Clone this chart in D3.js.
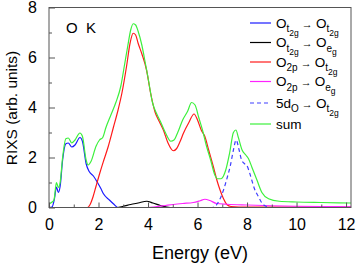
<!DOCTYPE html>
<html>
<head>
<meta charset="utf-8">
<script src="https://cdn.jsdelivr.net/npm/d3@7"></script>
<style>
  body { margin: 0; background: #fff; }
  svg { font-family: "Liberation Sans", Arial, sans-serif; }
</style>
</head>
<body>
<div class="chart"></div>
<script>
// energy (eV) / intensity pairs
const sumE = [0,0.1,0.2,0.3,0.38,0.45,0.55,0.68,0.78,0.92,1.05,1.25,1.35,1.5,1.58,1.7,1.9,2.04,2.17,2.3,2.5,2.7,2.9,3.05,3.18,3.3,3.4,3.5,3.6,3.75,3.84,4.0,4.18,4.35,4.52,4.7,4.92,5.05,5.2,5.4,5.6,5.76,5.9,6.05,6.2,6.35,6.53,6.7,6.8,6.95,7.14,7.3,7.45,7.55,7.65,7.8,7.95,8.06,8.2,8.4,8.6,8.87,9.3,10,11,12.2];
const sumI = [0.15,0.2,0.3,1.0,0.8,1.0,2.0,2.75,2.78,2.58,2.7,2.98,2.85,1.9,1.7,1.85,2.45,2.7,2.8,3.2,3.7,4.2,4.85,5.7,6.45,7.1,7.35,7.3,7.05,6.5,6.05,5.2,4.2,3.75,3.4,3.0,2.65,2.7,3.0,3.5,3.85,4.2,4.1,3.6,3.1,2.5,1.9,1.3,1.15,1.15,1.5,2.2,3.0,3.1,2.8,2.3,2.1,1.95,1.6,1.1,0.6,0.35,0.25,0.22,0.2,0.18];

const t2tE = [0,0.12,0.22,0.3,0.38,0.45,0.55,0.68,0.78,0.92,1.05,1.25,1.35,1.5,1.63,1.8,1.97,2.1,2.2,2.44,2.6,2.78,12.2];
const t2tI = [0,0.02,0.35,0.82,0.6,0.85,1.9,2.55,2.58,2.42,2.5,2.8,2.65,1.75,1.43,1.25,0.98,0.75,0.55,0.3,0.15,0,0];

const t2eE = [0,2.75,3.0,3.3,3.6,3.95,4.2,4.5,4.9,12.2];
const t2eI = [0,0,0.05,0.12,0.18,0.25,0.18,0.08,0,0];

const p2tE = [0,1.55,1.65,1.78,1.9,2.05,2.2,2.39,2.6,2.79,2.95,3.13,3.28,3.4,3.5,3.6,3.75,3.94,4.1,4.28,4.45,4.62,4.8,5.02,5.15,5.3,5.43,5.65,5.86,6.0,6.15,6.3,6.45,6.64,6.78,6.91,7.05,7.18,7.35,8,12.2];
const p2tI = [0,0,0.1,0.43,0.85,1.37,1.85,2.43,3.2,3.9,4.6,5.63,6.6,6.97,6.9,6.57,6.15,5.5,4.6,3.83,3.45,3.1,2.6,2.27,2.35,2.65,2.97,3.4,3.74,3.5,3.1,2.83,2.3,1.63,1.1,0.7,0.35,0.12,0.04,0.02,0.02];

const p2eE = [0,4.0,4.3,4.7,5.02,5.4,5.83,6.1,6.3,6.5,6.77,7.2,8,9,10,11,12.2];
const p2eI = [0,0,0.03,0.08,0.12,0.16,0.2,0.27,0.33,0.28,0.16,0.13,0.1,0.07,0.05,0.04,0.03];

const d5E = [0,6.6,6.8,7.05,7.2,7.32,7.45,7.56,7.68,7.78,7.9,7.98,8.1,8.19,8.3,8.46,8.6,8.8,8.95,12.2];
const d5I = [0,0,0.15,0.7,1.2,1.65,2.3,2.7,2.3,1.9,1.75,1.7,1.4,1.1,0.75,0.43,0.18,0.03,0,0];

const xMajor = [0,2,4,6,8,10,12];
const xMinor = [1,3,5,7,9,11];
const yMajor = [0,2,4,6,8];
const yMinor = [1,3,5,7];

const series = [
  { E: t2tE, I: t2tI, color: "#1a1aff", dash: null,  label: [["O"],["t",1],["2g",2],[" \u2192 ",0],["O"],["t",1],["2g",2]] },
  { E: t2eE, I: t2eI, color: "#000000", dash: null,  label: [["O"],["t",1],["2g",2],[" \u2192 ",0],["O"],["e",1],["g",2]] },
  { E: p2tE, I: p2tI, color: "#ff1a1a", dash: null,  label: [["O"],["2p",1],[" \u2192 ",0],["O"],["t",1],["2g",2]] },
  { E: p2eE, I: p2eI, color: "#ff22ff", dash: null,  label: [["O"],["2p",1],[" \u2192 ",0],["O"],["e",1],["g",2]] },
  { E: d5E,  I: d5I,  color: "#3f3fff", dash: "4,3", label: [["5d"],["O",1],[" \u2192 ",0],["O"],["t",1],["2g",2]] },
  { E: sumE, I: sumI, color: "#3cf03c", dash: null,  label: [["sum"]] }
];

const width = 357, height = 266;
const mLeft = 49, mRight = 351, mTop = 7.5, mBottom = 207.5;

const svg = d3.select(".chart").append("svg")
    .attr("width", width)
    .attr("height", height);

const x = d3.scaleLinear().domain([0, 12.2]).range([mLeft, mRight]);
const y = d3.scaleLinear().domain([0, 8]).range([mBottom, mTop]);

svg.append("clipPath").attr("id", "clip")
  .append("rect")
    .attr("x", mLeft).attr("y", mTop)
    .attr("width", mRight - mLeft).attr("height", mBottom - mTop);

const line = d3.line()
    .x(d => x(d[0]))
    .y(d => y(d[1]))
    .curve(d3.curveMonotoneX);

svg.append("g")
    .attr("clip-path", "url(#clip)")
  .selectAll("path")
  .data(series)
  .enter()
  .append("path")
    .attr("d", s => line(d3.zip(s.E, s.I)))
    .attr("fill", "none")
    .attr("stroke", s => s.color)
    .attr("stroke-width", 1.2)
    .attr("stroke-dasharray", s => s.dash);

// axes, ticks pointing inward
const axisColor = "#555";

svg.append("g")
    .attr("transform", `translate(0,${mBottom})`)
    .call(d3.axisBottom(x).tickValues(xMajor).tickSize(-5).tickPadding(11).tickFormat(d3.format("d")));
svg.append("g")
    .attr("transform", `translate(0,${mBottom})`)
    .call(d3.axisBottom(x).tickValues(xMinor).tickSize(-3).tickFormat(""));

svg.append("g")
    .attr("transform", `translate(${mLeft},0)`)
    .call(d3.axisLeft(y).tickValues(yMajor).tickSize(-6).tickPadding(12).tickFormat(d3.format("d")));
svg.append("g")
    .attr("transform", `translate(${mLeft},0)`)
    .call(d3.axisLeft(y).tickValues(yMinor).tickSize(-3).tickFormat(""));

svg.selectAll(".domain").remove();
svg.selectAll(".tick line").attr("stroke", axisColor);
svg.selectAll(".tick text")
    .attr("fill", "#000")
    .style("font-size", "16px")
    .style("font-family", "'Liberation Sans', Arial, sans-serif");

svg.append("rect")
    .attr("x", mLeft).attr("y", mTop)
    .attr("width", mRight - mLeft).attr("height", mBottom - mTop)
    .attr("fill", "none")
    .attr("stroke", axisColor)
    .attr("stroke-width", 1);

svg.append("text")
    .attr("x", 200)
    .attr("y", 259)
    .attr("text-anchor", "middle")
    .style("font-size", "18px")
    .text("Energy (eV)");

svg.append("text")
    .attr("transform", "translate(17,108) rotate(-90)")
    .attr("text-anchor", "middle")
    .style("font-size", "15.5px")
    .text("RIXS (arb. units)");

svg.append("text")
    .attr("x", 66)
    .attr("y", 33)
    .style("font-size", "15px")
    .style("white-space", "pre")
    .text("O  K");

// legend
const rowY = [23, 42.5, 62, 81.5, 103, 124];
const legend = svg.append("g");
series.forEach((s, i) => {
  legend.append("line")
      .attr("x1", 250).attr("x2", 271)
      .attr("y1", rowY[i]).attr("y2", rowY[i])
      .attr("stroke", s.color)
      .attr("stroke-width", 1.2)
      .attr("stroke-dasharray", s.dash);
  const t = legend.append("text")
      .attr("x", 276)
      .attr("y", rowY[i] + 4.5)
      .style("font-size", "13.5px")
      .style("white-space", "pre");
  let level = 0;
  const shift = [0, 4.5, 8];
  s.label.forEach(([str, lv]) => {
    lv = lv || 0;
    t.append("tspan")
        .attr("dy", shift[lv] - shift[level])
        .style("font-size", lv === 0 ? (str.includes("\u2192") ? "11px" : "13.5px") : (lv === 1 ? "10px" : "8.5px"))
        .text(str);
    level = lv;
  });
});
</script>
</body>
</html>
